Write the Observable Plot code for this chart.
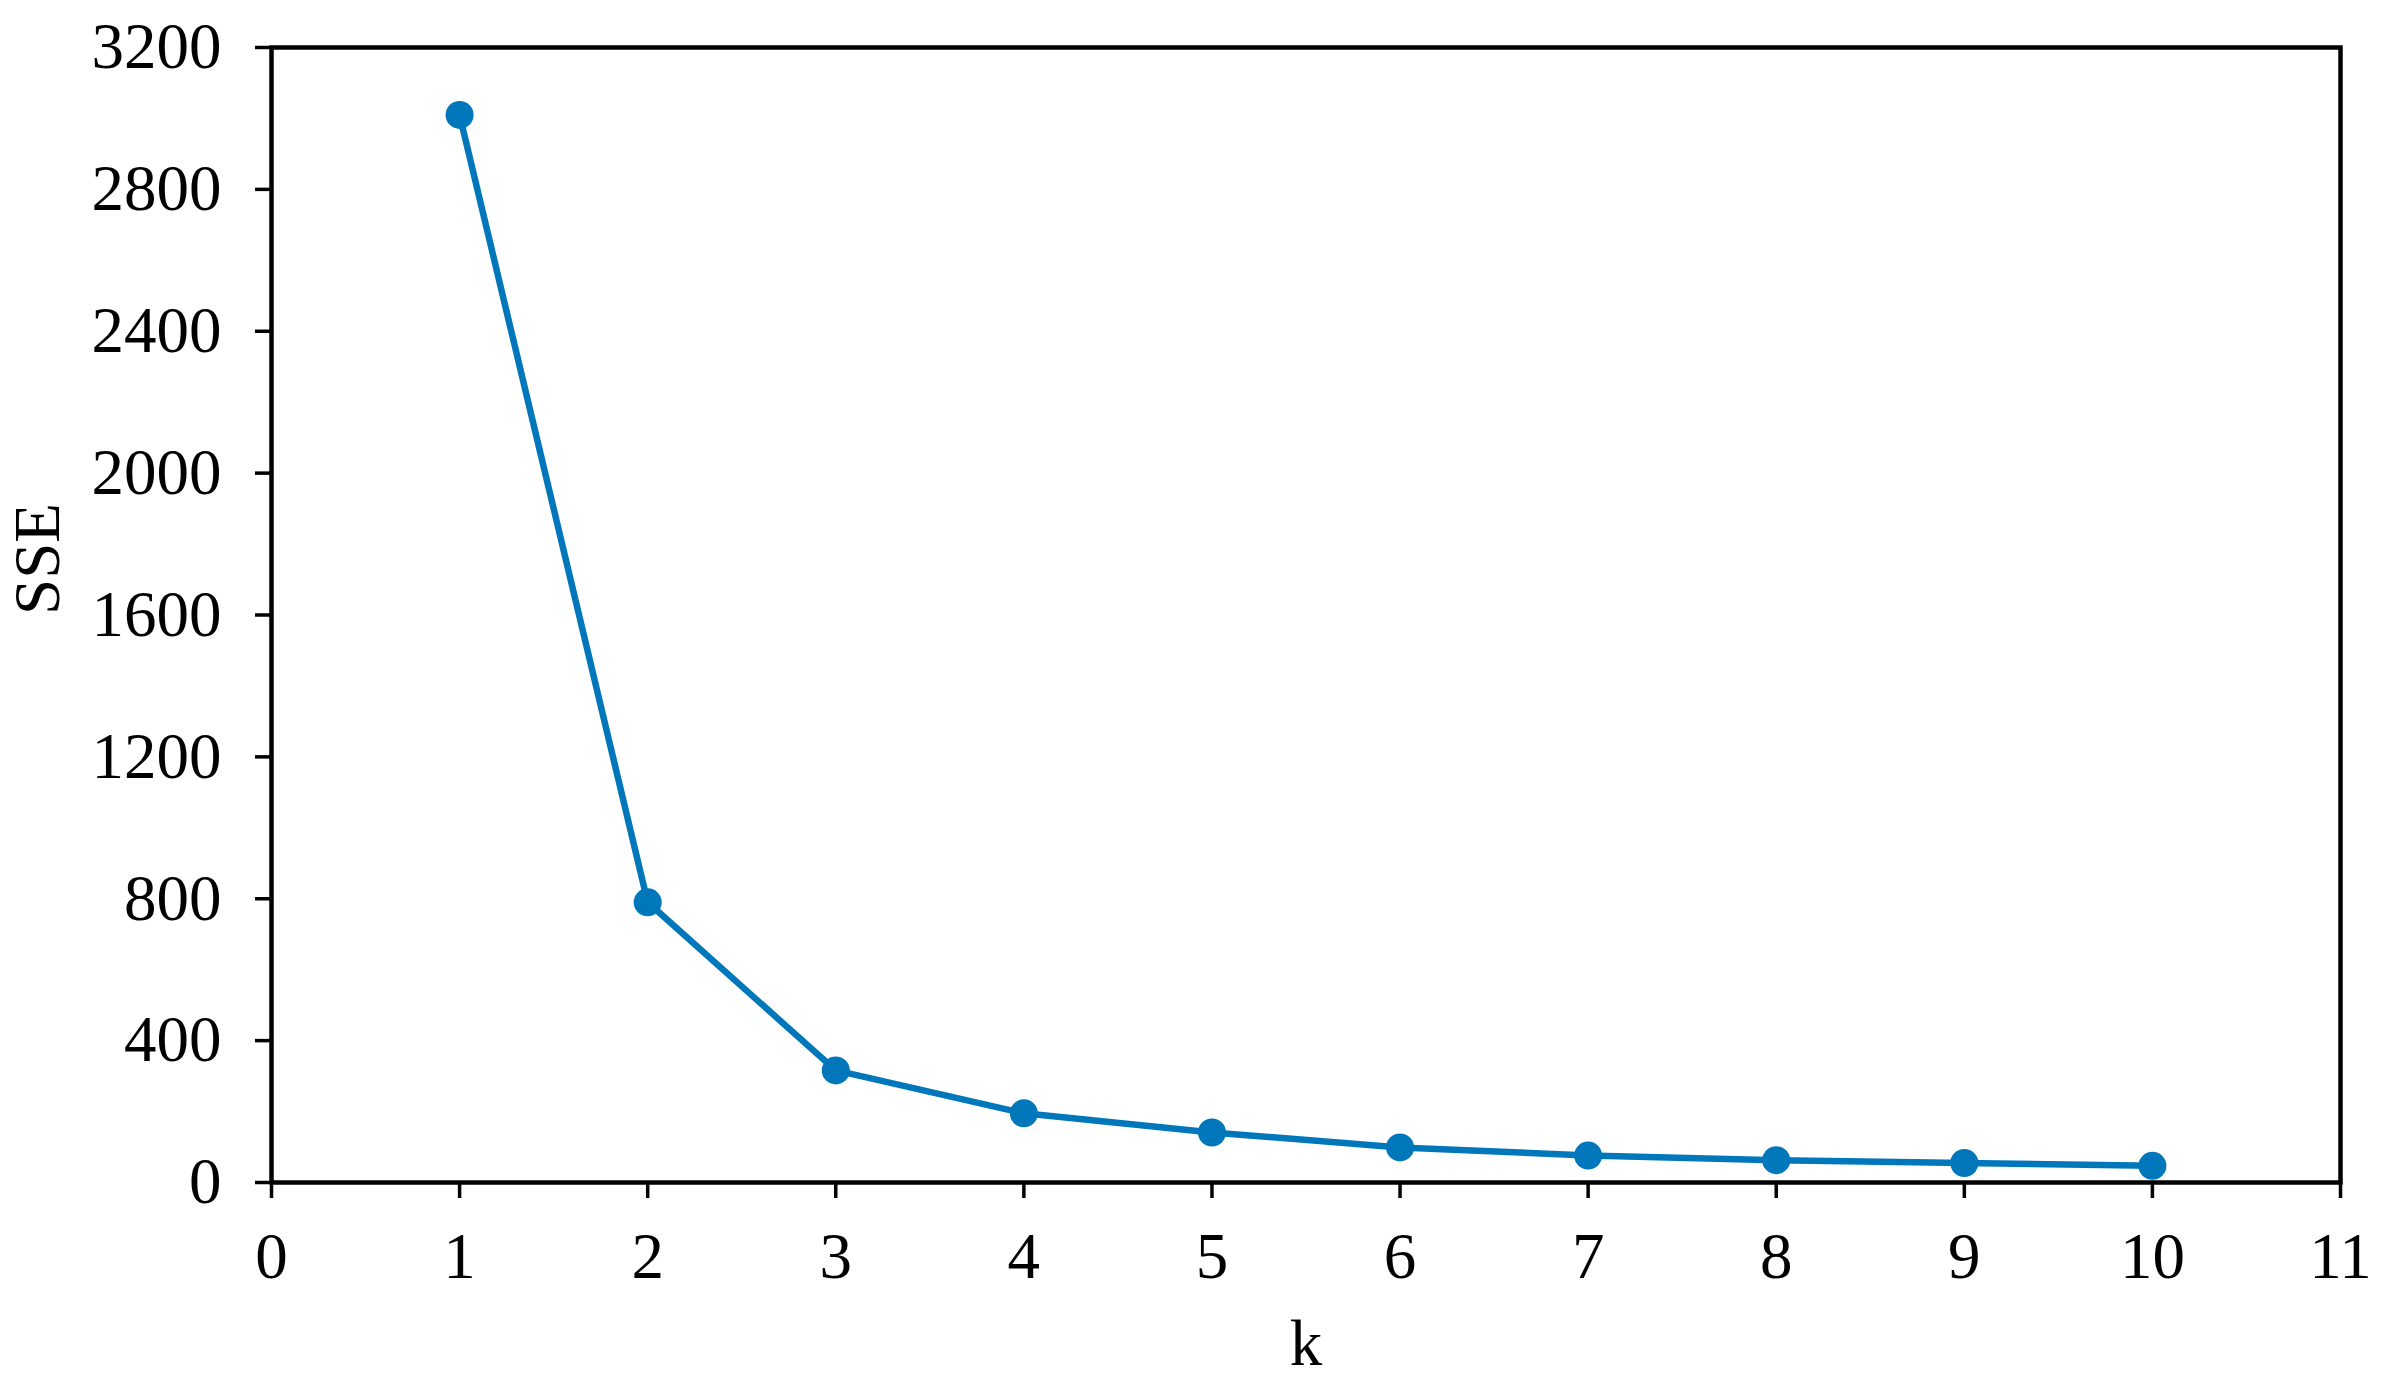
<!DOCTYPE html>
<html>
<head>
<meta charset="utf-8">
<script src="https://cdn.jsdelivr.net/npm/d3@7"></script>
<script src="https://cdn.jsdelivr.net/npm/@observablehq/plot@0.6"></script>
<style>
  html, body { margin: 0; padding: 0; background: #fff; }
  #chart svg { display: block; }
</style>
</head>
<body>
<div id="chart"></div>
<script>
const kValues = [1, 2, 3, 4, 5, 6, 7, 8, 9, 10];
const sseValues = [3010, 790, 316, 195, 141, 99, 76, 63, 55, 47];
const xTicks = [0, 1, 2, 3, 4, 5, 6, 7, 8, 9, 10, 11];
const yTicks = [0, 400, 800, 1200, 1600, 2000, 2400, 2800, 3200];
const xTitle = "k";
const yTitle = "SSE";

const data = kValues.map((k, i) => ({k, sse: sseValues[i]}));
const color = "#0077bb";
const font = "'Liberation Serif', 'Times New Roman', serif";

const chart = Plot.plot({
  width: 2386,
  height: 1397,
  marginLeft: 271,
  marginRight: 46,
  marginTop: 47,
  marginBottom: 215,
  style: {fontFamily: font, background: "#fff", color: "#000"},
  x: {domain: [0, 11]},
  y: {domain: [0, 3200]},
  marks: [
    Plot.axisX({ticks: xTicks, tickFormat: d => String(d), tickSize: 16, tickPadding: 33, fontSize: 65, strokeWidth: 3.5, label: null, fill: "#000", fontFamily: font}),
    Plot.axisY({ticks: yTicks, tickFormat: d => String(d), tickSize: 16, tickPadding: 34, fontSize: 65, strokeWidth: 3.5, label: null, fill: "#000", fontFamily: font}),
    Plot.frame({stroke: "#000", strokeWidth: 4.5}),
    Plot.line(data, {x: "k", y: "sse", stroke: color, strokeWidth: 6.5}),
    Plot.dot(data, {x: "k", y: "sse", r: 14, fill: color, stroke: null}),
    Plot.text([xTitle], {frameAnchor: "bottom", dy: 162, fontSize: 65, lineAnchor: "middle", fill: "#000", fontFamily: font}),
    Plot.text([yTitle], {frameAnchor: "left", dx: -233, rotate: -90, fontSize: 65, lineAnchor: "middle", fill: "#000", fontFamily: font})
  ]
});
document.getElementById("chart").appendChild(chart);
</script>
</body>
</html>
